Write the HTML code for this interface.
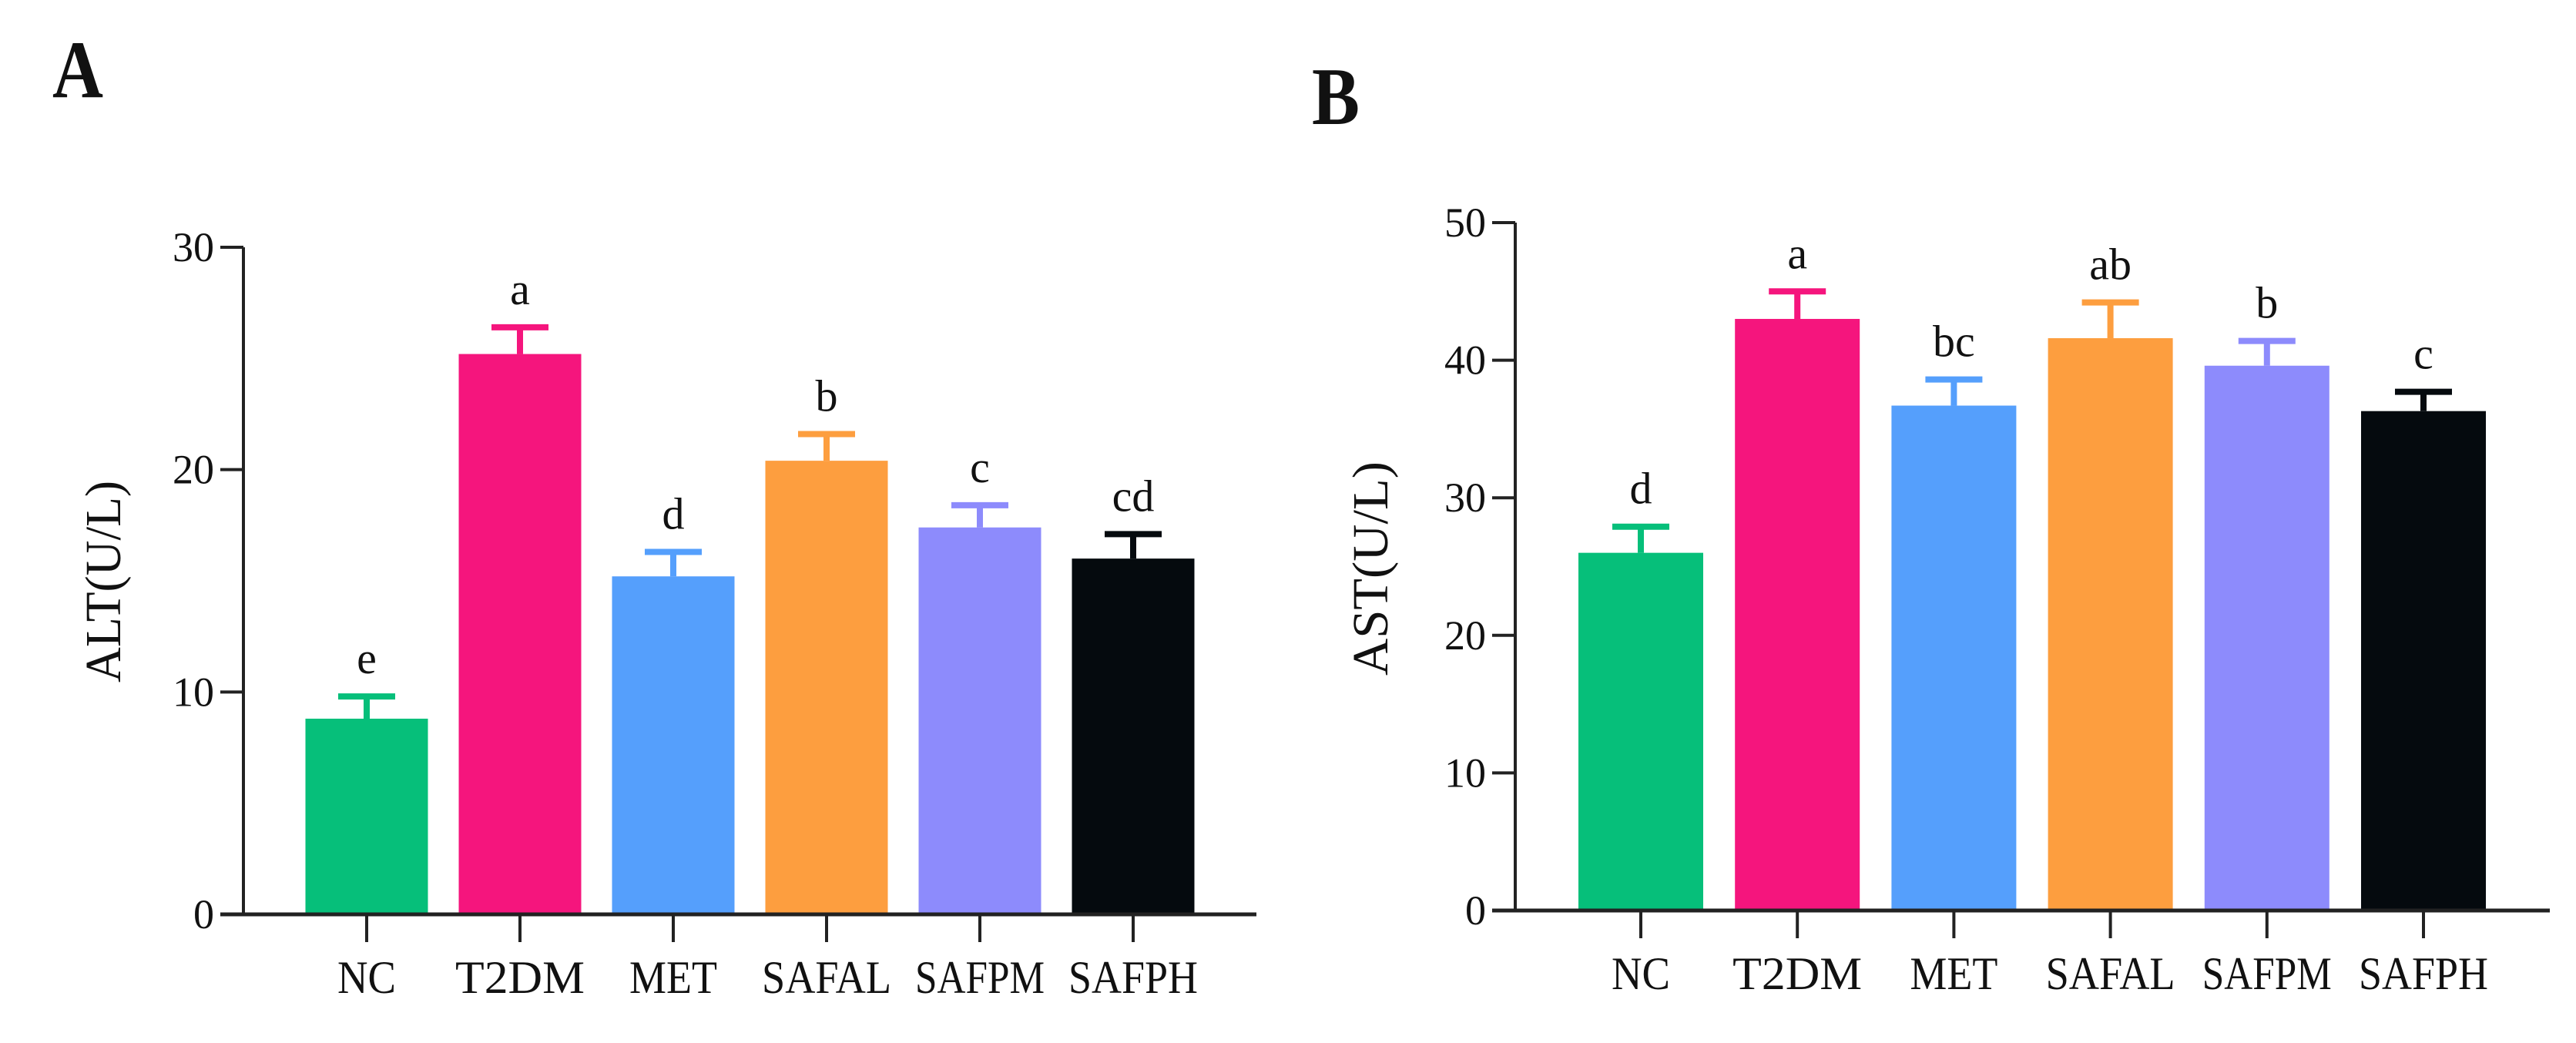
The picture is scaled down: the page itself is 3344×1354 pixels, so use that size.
<!DOCTYPE html>
<html><head><meta charset="utf-8"><style>
html,body{margin:0;padding:0;background:#fff;overflow:hidden;}
svg{display:block;}
text{font-family:"Liberation Serif",serif;fill:#111;}
</style></head><body>
<svg id="fig" width="3344" height="1354" viewBox="0 0 3344 1354" xmlns="http://www.w3.org/2000/svg">
<text x="68" y="126" font-size="106" font-weight="bold" textLength="66" lengthAdjust="spacingAndGlyphs">A</text>
<text x="1703" y="161" font-size="106" font-weight="bold" textLength="62" lengthAdjust="spacingAndGlyphs">B</text>
</svg>
<script>
const categories = ["NC","T2DM","MET","SAFAL","SAFPM","SAFPH"];
const colors = ["#06bf7a","#f5157d","#559ffc","#fd9e3f","#8d8bfc","#050a0e"];
const altMeans = [8.8, 25.2, 15.2, 20.4, 17.4, 16.0];
const altErrs = [1.0, 1.2, 1.1, 1.2, 1.0, 1.1];
const altLetters = ["e","a","d","b","c","cd"];
const altTicks = [0, 10, 20, 30];
const astMeans = [26.0, 43.0, 36.7, 41.6, 39.6, 36.3];
const astErrs = [1.9, 2.0, 1.9, 2.6, 1.8, 1.4];
const astLetters = ["d","a","bc","ab","b","c"];
const astTicks = [0, 10, 20, 30, 40, 50];

const svg = document.getElementById('fig');
const NS = 'http://www.w3.org/2000/svg';
function el(tag, attrs, parent){
  const e = document.createElementNS(NS, tag);
  for (const k in attrs) e.setAttribute(k, attrs[k]);
  (parent||svg).appendChild(e);
  return e;
}
function panel(cfg, means, errs, letters, ticks){
  const g = el('g', {});
  
  
  const yMax = ticks[ticks.length-1];
  const y = v => cfg.y0 - (v / yMax) * (cfg.y0 - cfg.yTop);
  const x = i => cfg.x0 + i * cfg.step;
  means.forEach((m, i) => {
    const r = el('rect', {x: x(i) - cfg.bw/2, y: y(m), width: cfg.bw, height: cfg.y0 - y(m), fill: colors[i]}, g);
    
    
    const top = y(m + errs[i]);
    const e = el('path', {d: `M${x(i)} ${y(m)} V${top} M${x(i)-37} ${top} H${x(i)+37}`, stroke: colors[i], 'stroke-width': 8, fill: 'none'}, g);
    
    
    const t = el('text', {x: x(i), y: top - 30, 'font-size': 58, 'text-anchor': 'middle'}, g);
    t.textContent = letters[i];
    
    
    const tk = el('line', {x1: x(i), x2: x(i), y1: cfg.y0, y2: cfg.y0 + 36, stroke: '#222', 'stroke-width': 4}, g);
    
    
    const lb = el('text', {x: x(i), y: cfg.y0 + 102, 'font-size': 60, 'text-anchor': 'middle', textLength: categories[i].length > 3 ? 168 : (categories[i].length*38), lengthAdjust: 'spacingAndGlyphs'}, g);
    lb.textContent = categories[i];
    
    
  });
  const ya = el('line', {x1: cfg.ax, x2: cfg.ax, y1: y(yMax), y2: cfg.y0 + 2, stroke: '#222', 'stroke-width': 4}, g);
  
  
  const xa = el('line', {x1: cfg.ax - 30, x2: cfg.xEnd, y1: cfg.y0, y2: cfg.y0, stroke: '#222', 'stroke-width': 5}, g);
  
  
  ticks.forEach(tv => {
    const tl = el('line', {x1: cfg.ax - 30, x2: cfg.ax, y1: y(tv), y2: y(tv), stroke: '#222', 'stroke-width': 4}, g);
    
    
    const tt = el('text', {x: cfg.ax - 38, y: y(tv) + 18, 'font-size': 54, 'text-anchor': 'end'}, g);
    tt.textContent = tv;
    
    
  });
  const yt = el('text', {x: 0, y: 0, 'font-size': 66, 'text-anchor': 'middle', transform: `translate(${cfg.titleX},${cfg.titleY}) rotate(-90)`, textLength: cfg.titleLen, lengthAdjust: 'spacingAndGlyphs'}, g);
  yt.textContent = cfg.title;
  
  
}
panel({id:'alt', x0:476, step:199, bw:159, y0:1187, yTop:321, ax:316, xEnd:1631, titleX:156, titleY:755, title:'ALT(U/L)', titleLen:262}, altMeans, altErrs, altLetters, altTicks);
panel({id:'ast', x0:2130, step:203.2, bw:162, y0:1182, yTop:289, ax:1967, xEnd:3310, titleX:1801, titleY:738, title:'AST(U/L)', titleLen:278}, astMeans, astErrs, astLetters, astTicks);
</script>
</body></html>
